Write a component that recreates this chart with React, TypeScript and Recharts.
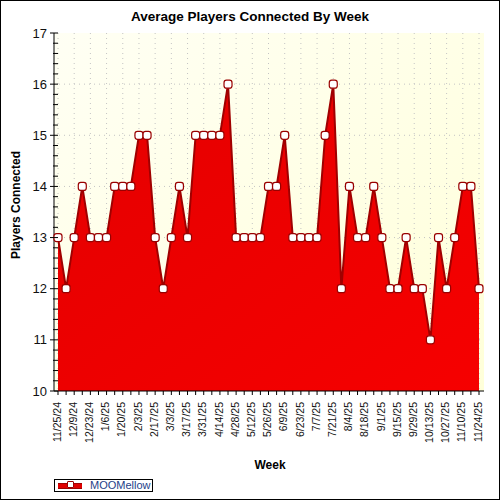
import React from 'react';
import { AreaChart, Area, XAxis, YAxis, CartesianGrid } from 'recharts';

const weeks = [
  '11/25/24', '12/2/24', '12/9/24', '12/16/24', '12/23/24', '12/30/24', '1/6/25', '1/13/25',
  '1/20/25', '1/27/25', '2/3/25', '2/10/25', '2/17/25', '2/24/25', '3/3/25', '3/10/25',
  '3/17/25', '3/24/25', '3/31/25', '4/7/25', '4/14/25', '4/21/25', '4/28/25', '5/5/25',
  '5/12/25', '5/19/25', '5/26/25', '6/2/25', '6/9/25', '6/16/25', '6/23/25', '6/30/25',
  '7/7/25', '7/14/25', '7/21/25', '7/28/25', '8/4/25', '8/11/25', '8/18/25', '8/25/25',
  '9/1/25', '9/8/25', '9/15/25', '9/22/25', '9/29/25', '10/6/25', '10/13/25', '10/20/25',
  '10/27/25', '11/3/25', '11/10/25', '11/17/25', '11/24/25',
];

const moomellow = [
  13, 12, 13, 14, 13, 13, 13, 14, 14, 14,
  15, 15, 13, 12, 13, 14, 13, 15, 15, 15,
  15, 16, 13, 13, 13, 13, 14, 14, 15, 13,
  13, 13, 13, 15, 16, 12, 14, 13, 13, 14,
  13, 12, 12, 13, 12, 12, 11, 13, 12, 13,
  14, 14, 12,
];

const yLabels = [10, 11, 12, 13, 14, 15, 16, 17];
const gridY = [11, 12, 13, 14, 15, 16];

const data = weeks.map((week, i) => ({ week, players: moomellow[i] }));

// minor ticks every 0.2
const yTicks: number[] = [];
for (let i = 0; i <= 35; i++) yTicks.push(Math.round((10 + i * 0.2) * 10) / 10);

const labelWeeks = weeks.filter((_, i) => i % 2 === 0);

const LEFT = 54;
const RIGHT = 484;
const TOP = 33;
const BOTTOM = 391;
const font = '"Liberation Sans", Arial, sans-serif';

const LeftTick = (props: any) => {
  const { y, payload } = props;
  const major = yLabels.includes(payload.value);
  return (
    <g>
      <line x1={major ? LEFT - 4 : LEFT - 1} x2={LEFT + 4} y1={y} y2={y} stroke="#000" />
      {major && (
        <text x={LEFT - 7} y={y} dy="0.35em" textAnchor="end" fontSize={13} fill="#111" fontFamily={font}>
          {payload.value}
        </text>
      )}
    </g>
  );
};

const RightTick = (props: any) => {
  const { y, payload } = props;
  const major = yLabels.includes(payload.value);
  return <line x1={RIGHT - (major ? 5 : 3)} x2={RIGHT} y1={y} y2={y} stroke="#000" />;
};

const TopTick = (props: any) => {
  const { x, index } = props;
  return <line x1={x} x2={x} y1={TOP} y2={TOP + (index % 2 === 0 ? 4 : 3)} stroke="#000" />;
};

const BottomTick = (props: any) => {
  const { x, payload, index } = props;
  return (
    <g>
      <line x1={x} x2={x} y1={BOTTOM} y2={BOTTOM + 4} stroke="#000" />
      {index % 2 === 0 && (
        <text
          transform={`translate(${x - 1},${BOTTOM + 11}) rotate(-90)`}
          dy="0.35em"
          textAnchor="end"
          fontSize={10.5}
          fill="#111"
          fontFamily={font}
        >
          {payload.value}
        </text>
      )}
    </g>
  );
};

const Marker = (props: any) => {
  const { cx, cy } = props;
  if (cx == null || cy == null) return null;
  return <rect x={cx - 4} y={cy - 4} width={8} height={8} rx={2.5} fill="#fff" stroke="#990000" strokeWidth={1.2} />;
};

export default function App() {
  return (
    <div style={{ position: 'relative', width: 500, height: 500, background: '#fff', fontFamily: font }}>
      <style>{'body{margin:0}'}</style>
      <div style={{ position: 'absolute', top: 9, left: 0, width: 500, textAlign: 'center', fontWeight: 'bold', fontSize: 13.5 }}>
        Average Players Connected By Week
      </div>
      <div
        style={{
          position: 'absolute', left: 16, top: 205, transform: 'translate(-50%,-50%) rotate(-90deg)',
          fontWeight: 'bold', fontSize: 12, whiteSpace: 'nowrap',
        }}
      >
        Players Connected
      </div>
      <div style={{ position: 'absolute', left: 0, width: 540, top: 458, textAlign: 'center', fontWeight: 'bold', fontSize: 12 }}>
        Week
      </div>
      <AreaChart width={500} height={500} data={data} margin={{ top: TOP, right: 500 - RIGHT, bottom: 0, left: 0 }}>
        <defs>
          <linearGradient id="plotBg" x1="0" y1="0" x2="1" y2="1">
            <stop offset="0%" stopColor="#fffff4" />
            <stop offset="100%" stopColor="#ffffd9" />
          </linearGradient>
          <linearGradient id="redFill" x1="0" y1="0" x2="1" y2="1">
            <stop offset="0%" stopColor="#e40000" />
            <stop offset="100%" stopColor="#f60000" />
          </linearGradient>
        </defs>
        <CartesianGrid
          fill="url(#plotBg)"
          fillOpacity={1}
          stroke="#c4c4c4"
          strokeDasharray="1 4"
          horizontalValues={gridY}
          verticalValues={labelWeeks}
        />
        <XAxis
          dataKey="week"
          interval={0}
          height={500 - BOTTOM}
          padding={{ left: 4, right: 5 }}
          tick={<BottomTick />}
          tickLine={false}
          axisLine={{ stroke: '#000' }}
        />
        <XAxis
          xAxisId="top"
          dataKey="week"
          orientation="top"
          interval={0}
          height={0}
          padding={{ left: 4, right: 5 }}
          tick={<TopTick />}
          tickLine={false}
          axisLine={{ stroke: '#000' }}
        />
        <YAxis
          domain={[10, 17]}
          ticks={yTicks}
          interval={0}
          width={LEFT}
          tick={<LeftTick />}
          tickLine={false}
          axisLine={{ stroke: '#000' }}
        />
        <YAxis
          yAxisId="right"
          orientation="right"
          domain={[10, 17]}
          ticks={yTicks}
          interval={0}
          width={0}
          tick={<RightTick />}
          tickLine={false}
          axisLine={{ stroke: '#000' }}
        />
        <Area
          type="linear"
          dataKey="players"
          baseValue={10}
          stroke="#a00000"
          strokeWidth={2}
          fill="url(#redFill)"
          fillOpacity={1}
          dot={<Marker />}
          activeDot={false}
          isAnimationActive={false}
        />
      </AreaChart>
      <div
        style={{
          position: 'absolute', left: 54, top: 479, width: 99, height: 13, boxSizing: 'border-box',
          border: '1px solid #000', background: '#fff',
        }}
      >
        <div style={{ position: 'absolute', left: 3, top: 3, width: 24, height: 4, background: '#e00000', borderTop: '1px solid #a00000', borderBottom: '1px solid #a00000' }} />
        <div style={{ position: 'absolute', left: 12, top: 1, width: 5, height: 5, background: '#fff', border: '1px solid #990000', borderRadius: 1 }} />
        <div style={{ position: 'absolute', left: 35, top: -1, fontSize: 11, color: '#1f3f8a', whiteSpace: 'nowrap' }}>MOOMellow</div>
      </div>
      <div style={{ position: 'absolute', inset: 0, border: '1px solid #000', pointerEvents: 'none' }} />
    </div>
  );
}
